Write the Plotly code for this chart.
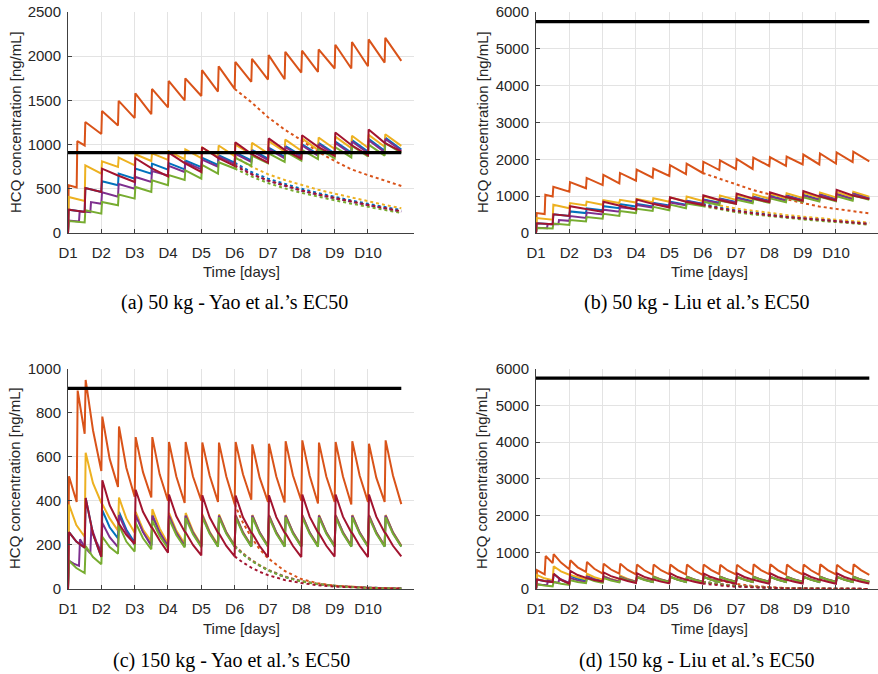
import plotly.graph_objects as go

# ---------------- thresholds (EC50, ng/mL) ----------------
ec50_yao = 910
ec50_liu = 5740
t_line = [0, 10]

# ---------------- 50 kg regimen ----------------
t50_bid = [0, 0.02, 0.5, 0.52, 1.0, 1.02, 1.5, 1.52, 2.0, 2.02, 2.5, 2.52, 3.0, 3.02, 3.5, 3.52,
           4.0, 4.02, 4.5, 4.52, 5.0, 5.02, 5.5, 5.52, 6.0, 6.02, 6.5, 6.52, 7.0, 7.02, 7.5, 7.52,
           8.0, 8.02, 8.5, 8.52, 9.0, 9.02, 9.5, 9.52, 10.0]
t50_orange = [0, 0.02, 0.26, 0.28] + t50_bid[2:]
t50_purple = [0, 0.02, 0.33, 0.35, 0.67, 0.69] + t50_bid[4:]
t50_red = [0, 0.02, 0.5, 0.52, 1.0, 1.02, 1.5, 2.0, 2.02, 2.5, 3.0, 3.02, 3.5, 4.0, 4.02, 4.5,
           5.0, 5.02, 5.5, 6.0, 6.02, 6.5, 7.0, 7.02, 7.5, 8.0, 8.02, 8.5, 9.0, 9.02, 9.5, 10.0]
t50_tail = [5.0, 5.5, 6.0, 6.5, 7.0, 7.5, 8.0, 8.5, 9.0, 9.5, 10.0]

c50_orange = [0, 540, 515, 1040, 990, 1255, 1120, 1380, 1215, 1495, 1300, 1580, 1345, 1630, 1420, 1720,
              1500, 1750, 1550, 1842, 1600, 1885, 1630, 1935, 1710, 1970, 1736, 2012, 1740, 2049,
              1815, 2062, 1823, 2076, 1861, 2130, 1861, 2160, 1887, 2190, 1928, 2208, 1947]
c50_yellow = [0, 408, 362, 766, 672, 811, 747, 853, 766, 891, 815, 900, 827, 925, 835, 945, 846, 965,
              860, 990, 870, 1000, 890, 1020, 900, 1040, 920, 1057, 930, 1070, 940, 1080, 950, 1090,
              960, 1100, 965, 1110, 975, 1117, 985]
c50_blue = [0, 264, 238, 509, 464, 585, 540, 672, 615, 728, 672, 785, 717, 790, 720, 820, 745, 850,
            770, 880, 795, 910, 820, 940, 840, 965, 860, 985, 875, 1005, 890, 1020, 900, 1035, 910,
            1050, 920, 1065, 930, 1080, 945]
c50_purple = [0, 140, 130, 245, 235, 350, 330, 460, 410, 555, 502, 634, 577, 700, 650, 760, 690, 800,
              720, 830, 750, 865, 780, 895, 805, 925, 825, 950, 845, 970, 860, 990, 875, 1005, 885,
              1020, 895, 1035, 905, 1050, 915, 1065, 930]
c50_green = [0, 135, 120, 257, 219, 351, 313, 434, 389, 521, 464, 596, 540, 655, 600, 710, 615, 770,
             672, 800, 730, 850, 760, 875, 790, 900, 805, 920, 820, 940, 835, 955, 845, 970, 855,
             985, 865, 1000, 875, 1015, 905]
c50_red = [0, 264, 238, 509, 464, 728, 650, 577, 846, 735, 640, 910, 790, 690, 970, 850, 760, 1025,
           895, 795, 1070, 940, 840, 1106, 975, 872, 1136, 995, 880, 1170, 1020, 920]

tail50_orange = [1630, 1480, 1310, 1170, 1050, 920, 815, 720, 655, 595, 532]
tail50_yellow = [870, 750, 665, 600, 545, 490, 445, 400, 360, 318, 280]
tail50_blue = [795, 690, 615, 555, 500, 452, 408, 368, 330, 293, 258]
tail50_purple = [780, 670, 590, 530, 478, 432, 390, 350, 313, 278, 242]
tail50_green = [730, 640, 565, 505, 455, 410, 370, 332, 295, 260, 226]
tail50_red = [760, 665, 595, 535, 483, 437, 395, 356, 318, 282, 245]

# ---------------- 150 kg regimen ----------------
t150 = [0, 0.03, 0.25, 0.5, 0.53, 0.75, 1.0, 1.03, 1.25, 1.5, 1.53, 1.75, 2.0, 2.03, 2.25, 2.5,
        2.53, 2.75, 3.0, 3.03, 3.25, 3.5, 3.53, 3.75, 4.0, 4.03, 4.25, 4.5, 4.53, 4.75, 5.0, 5.03,
        5.25, 5.5, 5.53, 5.75, 6.0, 6.03, 6.25, 6.5, 6.53, 6.75, 7.0, 7.03, 7.25, 7.5, 7.53, 7.75,
        8.0, 8.03, 8.25, 8.5, 8.53, 8.75, 9.0, 9.03, 9.25, 9.5, 9.53, 9.75, 10.0]
t150_orange = [0, 0.03, 0.15, 0.26, 0.29, 0.4, 0.5, 0.53, 0.75, 1.0] + t150[7:]
t150_purple = [0, 0.03, 0.17, 0.33, 0.36, 0.5, 0.67, 0.7, 0.85, 1.0] + t150[7:]
t150_tail = [5.0, 5.25, 5.5, 5.75, 6.0, 6.5, 7.0, 7.5, 8.0, 8.5, 9.0, 9.5, 10.0]

c150_orange = [0, 511, 450, 395, 900, 790, 704, 948, 720, 535,
               782, 590, 463, 737, 550, 418, 689, 530, 415, 689, 520, 400, 667, 510, 390,
               667, 510, 400, 664, 515, 395, 664, 510, 385, 667, 520, 405, 656, 505, 395,
               659, 510, 392, 670, 515, 400, 674, 515, 388, 664, 510, 395, 667, 510, 383,
               670, 515, 395, 659, 505, 395, 674, 515, 385]
c150_yellow = [0, 383, 290, 237, 618, 480, 390, 385, 320, 265, 415, 320, 255, 350, 270, 215,
               362, 275, 205, 345, 265, 205, 345, 262, 200, 340, 260, 200, 338, 258, 198,
               336, 257, 197, 336, 257, 197, 336, 257, 197, 336, 257, 197, 336, 257, 197,
               336, 257, 197, 336, 257, 197, 336, 257, 197, 336, 257, 197, 336, 257, 197]
c150_blue = [0, 258, 215, 187, 413, 250, 146, 357, 280, 230, 350, 270, 210, 340, 262, 200,
             335, 258, 195, 332, 255, 193, 332, 255, 193, 332, 255, 193, 332, 255, 193,
             332, 255, 193, 332, 255, 193, 332, 255, 193, 332, 255, 193, 332, 255, 193,
             332, 255, 193, 332, 255, 193, 332, 255, 193, 332, 255, 193, 332, 255, 193]
c150_purple = [0, 128, 115, 105, 225, 190, 162, 280, 215, 168,
               300, 235, 190, 335, 260, 200, 335, 258, 196, 333, 256, 195, 333, 256, 195,
               333, 256, 195, 333, 256, 195, 333, 256, 195, 333, 256, 195, 333, 256, 195,
               333, 256, 195, 333, 256, 195, 333, 256, 195, 333, 256, 195, 333, 256, 195,
               333, 256, 195, 333, 256, 195, 333, 256, 195]
c150_green = [0, 128, 95, 72, 195, 145, 112, 237, 190, 160, 290, 215, 170, 300, 230, 180,
              310, 240, 185, 318, 245, 188, 322, 248, 190, 325, 250, 192, 325, 250, 192,
              325, 250, 192, 325, 250, 192, 325, 250, 192, 325, 250, 192, 325, 250, 192,
              325, 250, 192, 325, 250, 192, 325, 250, 192, 325, 250, 192, 325, 250, 192]
c150_red = [0, 258, 215, 187, 413, 250, 146,
            493, 380, 300, 296, 245, 205,
            450, 350, 280, 277, 220, 165,
            428, 330, 260, 257, 200, 152,
            425, 325, 255, 252, 195, 148,
            424, 325, 255, 252, 195, 145,
            425, 326, 255, 252, 195, 145,
            428, 328, 256, 253, 196, 147,
            428, 328, 256, 253, 196, 145,
            428, 328, 256, 253, 196, 148]

tail150_orange = [385, 300, 235, 180, 140, 82, 45, 26, 15, 9, 6, 4, 2]
tail150_yellow = [198, 163, 133, 108, 88, 57, 36, 23, 15, 10, 6, 4, 3]
tail150_blue = [193, 158, 129, 105, 85, 55, 35, 22, 14, 9, 6, 4, 3]
tail150_purple = [195, 160, 131, 106, 86, 56, 35, 22, 14, 9, 6, 4, 3]
tail150_green = [192, 157, 128, 104, 84, 54, 34, 21, 13, 8, 5, 3, 2]
tail150_red = [148, 120, 97, 78, 63, 41, 27, 17, 11, 7, 5, 3, 2]

# ---------------- axis ticks / labels ----------------
day_ticks = [0, 1, 2, 3, 4, 5, 6, 7, 8, 9]
day_labels = ["D1", "D2", "D3", "D4", "D5", "D6", "D7", "D8", "D9", "D10"]
y_ticks_a = [0, 500, 1000, 1500, 2000, 2500]
y_ticks_c = [0, 200, 400, 600, 800, 1000]
y_ticks_liu = [0, 1000, 2000, 3000, 4000, 5000, 6000]
captions = ["(a) 50 kg - Yao et al.\u2019s EC50", "(b) 50 kg - Liu et al.\u2019s EC50",
            "(c) 150 kg - Yao et al.\u2019s EC50", "(d) 150 kg - Liu et al.\u2019s EC50"]

COL = {"blue": "#0072BD", "orange": "#D95319", "yellow": "#EDB120",
       "purple": "#7E2F8E", "green": "#77AC30", "red": "#A2142F"}

W, H = 878, 674
fig = go.Figure()

regimens = {
    "50": dict(t={"orange": t50_orange, "yellow": t50_bid, "blue": t50_bid, "purple": t50_purple,
                  "green": t50_bid, "red": t50_red},
               c={"orange": c50_orange, "yellow": c50_yellow, "blue": c50_blue,
                  "purple": c50_purple, "green": c50_green, "red": c50_red},
               tt=t50_tail,
               tail={"orange": tail50_orange, "yellow": tail50_yellow, "blue": tail50_blue,
                     "purple": tail50_purple, "green": tail50_green, "red": tail50_red}),
    "150": dict(t={"orange": t150_orange, "yellow": t150, "blue": t150, "purple": t150_purple,
                   "green": t150, "red": t150},
                c={"orange": c150_orange, "yellow": c150_yellow, "blue": c150_blue,
                   "purple": c150_purple, "green": c150_green, "red": c150_red},
                tt=t150_tail,
                tail={"orange": tail150_orange, "yellow": tail150_yellow, "blue": tail150_blue,
                      "purple": tail150_purple, "green": tail150_green, "red": tail150_red}),
}

order = ["blue", "orange", "yellow", "purple", "green", "red"]
panels = [("50", ec50_yao, "x", "y"), ("50", ec50_liu, "x2", "y2"),
          ("150", ec50_yao, "x3", "y3"), ("150", ec50_liu, "x4", "y4")]

for reg, ec, xa, ya in panels:
    R = regimens[reg]
    for name in order:
        fig.add_trace(go.Scatter(x=R["tt"], y=R["tail"][name], mode="lines", xaxis=xa, yaxis=ya,
                                 line=dict(color=COL[name], width=2, dash="dot"),
                                 showlegend=False, hoverinfo="skip"))
    for name in order:
        fig.add_trace(go.Scatter(x=R["t"][name], y=R["c"][name], mode="lines", xaxis=xa, yaxis=ya,
                                 line=dict(color=COL[name], width=2),
                                 showlegend=False, hoverinfo="skip"))
    fig.add_trace(go.Scatter(x=t_line, y=[ec, ec], mode="lines", xaxis=xa, yaxis=ya,
                             line=dict(color="#000000", width=3.2),
                             showlegend=False, hoverinfo="skip"))

# pixel layout helpers
def fx(px):
    return px / W

def fy(py):
    return 1 - py / H

px_per_day = 33.33
left_l, left_r = 68, 414
right_l = 536
top_t, top_b = 12, 233
bot_t, bot_b = 368.5, 589

axis_font = dict(family="Liberation Sans, Arial, Helvetica, sans-serif", size=15, color="#262626")

def xaxis(dom, rng):
    return dict(domain=dom, range=rng, tickmode="array", tickvals=day_ticks, ticktext=day_labels,
                showgrid=True, gridcolor="#e3e3e3", gridwidth=1, zeroline=False, automargin=False,
                showline=True, linecolor="#404040", linewidth=1, ticks="inside", ticklen=4,
                tickcolor="#404040", tickfont=axis_font, ticklabelstandoff=6, fixedrange=True)

def yaxis(dom, ticks, anchor):
    return dict(domain=dom, range=[ticks[0], ticks[-1]], tickmode="array", tickvals=ticks,
                ticktext=[str(v) for v in ticks], anchor=anchor, automargin=False,
                showgrid=True, gridcolor="#e3e3e3", gridwidth=1, zeroline=False,
                showline=True, linecolor="#404040", linewidth=1, ticks="inside", ticklen=4,
                tickcolor="#404040", tickfont=axis_font, ticklabelstandoff=3, fixedrange=True)

rng_left = [0, (left_r - left_l) / px_per_day]
rng_right = [0, (W - right_l) / px_per_day]

fig.update_layout(
    width=W, height=H, margin=dict(l=0, r=0, t=0, b=0, autoexpand=False),
    paper_bgcolor="white", plot_bgcolor="white", showlegend=False,
    xaxis=dict(xaxis([fx(left_l), fx(left_r)], rng_left), anchor="y"),
    yaxis=yaxis([fy(top_b), fy(top_t)], y_ticks_a, "x"),
    xaxis2=dict(xaxis([fx(right_l), 1.0], rng_right), anchor="y2"),
    yaxis2=yaxis([fy(top_b), fy(top_t)], y_ticks_liu, "x2"),
    xaxis3=dict(xaxis([fx(left_l), fx(left_r)], rng_left), anchor="y3"),
    yaxis3=yaxis([fy(bot_b), fy(bot_t)], y_ticks_c, "x3"),
    xaxis4=dict(xaxis([fx(right_l), 1.0], rng_right), anchor="y4"),
    yaxis4=yaxis([fy(bot_b), fy(bot_t)], y_ticks_liu, "x4"),
)

annotations = []
# axis titles
for cx, cy in [(241, 272), (709, 272), (241, 628), (709, 628)]:
    annotations.append(dict(text="Time [days]", x=fx(cx), y=fy(cy), xref="paper", yref="paper",
                            showarrow=False, xanchor="center", yanchor="middle", font=axis_font))
for cx, cy in [(15, 122), (482, 122), (15, 478), (482, 478)]:
    annotations.append(dict(text="HCQ concentration [ng/mL]", x=fx(cx), y=fy(cy), xref="paper",
                            yref="paper", showarrow=False, textangle=-90, xanchor="center",
                            yanchor="middle", font=axis_font))
# captions
cap_font = dict(family="Liberation Serif, Times New Roman, serif", size=20, color="#000000")
for txt, (cx, cy) in zip(captions, [(234, 302), (697, 302), (231, 660), (697, 660)]):
    annotations.append(dict(text=txt, x=fx(cx), y=fy(cy), xref="paper", yref="paper",
                            showarrow=False, xanchor="center", yanchor="middle", font=cap_font))
fig.update_layout(annotations=annotations)

fig.write_html("out.html", config={"displayModeBar": False, "staticPlot": True},
               post_script="document.body.style.margin='0px';document.body.style.overflow='hidden';")
